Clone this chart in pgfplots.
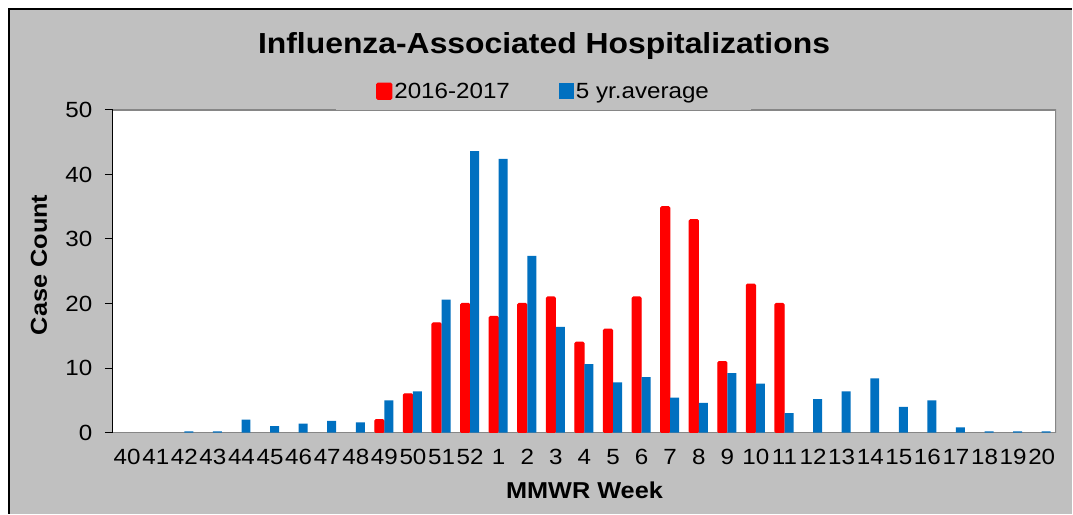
\documentclass[border=0pt]{standalone}
\usepackage{fontspec}
\setmainfont{Liberation Sans}[FakeStretch=1.1]
\usepackage{pgfplots}
\pgfplotsset{compat=1.18}
\definecolor{bg}{HTML}{C0C0C0}
\definecolor{myred}{HTML}{FF0000}
\definecolor{myblue}{HTML}{0070C0}
\definecolor{frame}{HTML}{868686}
\begin{document}
\begin{tikzpicture}[x=1pt,y=1pt]
\fill[white] (0,0) rectangle (1073,514);
\fill[bg] (9,0) rectangle (1073,505);
\draw[black, line width=2pt] (9,0) -- (9,505) -- (1073,505);
\node[font=\fontsize{29}{33}\selectfont\bfseries] at (544.5,468) {Influenza-Associated Hospitalizations};
\begin{axis}[
  at={(113pt,81pt)}, anchor=south west, scale only axis,
  width=944pt, height=323pt,
  xmin=-0.5, xmax=32.5, ymin=0, ymax=50,
  axis background/.style={fill=white},
  axis x line*=bottom, axis y line*=left,
  x axis line style={draw=frame, line width=1.5pt, -},
  y axis line style={draw=black, line width=1.2pt, -},
  ytick={0,10,20,30,40,50},
  xtick={0,...,32},
  xticklabels={40,41,42,43,44,45,46,47,48,49,50,51,52,1,2,3,4,5,6,7,8,9,10,11,12,13,14,15,16,17,18,19,20},
  tick align=outside, major tick length=8pt,
  y tick style={black, line width=1pt},
  x tick style={draw=none},
  ticklabel style={font=\fontsize{22}{26}\selectfont},
  /pgf/number format/assume math mode=true,
  xticklabel style={yshift=-5pt},
  yticklabel style={xshift=-9pt},
  xlabel={MMWR Week}, ylabel={Case Count},
  label style={font=\fontsize{23}{27}\selectfont\bfseries},
  xlabel style={at={(axis description cs:0.5,-0.1796)}, anchor=center},
  ylabel style={at={(axis description cs:-0.0784,0.52)}, anchor=center},
  legend style={at={(axis description cs:0.4566,1)}, anchor=south, fill=bg, draw=none,
    legend columns=2, font=\fontsize{22}{26}\selectfont, inner xsep=40pt, inner ysep=8pt,
    /tikz/every even column/.append style={column sep=47pt}},
  legend image code/.code={\fill[#1] (0pt,-8pt) rectangle (15pt,8pt);},
]
\addplot[ybar, bar width=9pt, bar shift=-5pt, fill=myred, draw=myred, line width=1.2pt, rounded corners=1.2pt] coordinates {
(9,2)(10,6)(11,17)(12,20)(13,18)(14,20)(15,21)(16,14)(17,16)(18,21)(19,35)(20,33)(21,11)(22,23)(23,20)};
\addplot[ybar, bar width=9pt, bar shift=4.5pt, fill=myblue, draw=none] coordinates {
(2,0.2)(3,0.2)(4,2.0)(5,1.0)(6,1.4)(7,1.8)(8,1.6)(9,5.0)(10,6.4)(11,20.6)(12,43.6)(13,42.4)(14,27.4)(15,16.4)(16,10.6)(17,7.8)(18,8.6)(19,5.4)(20,4.6)(21,9.2)(22,7.6)(23,3.0)(24,5.2)(25,6.4)(26,8.4)(27,4.0)(28,5.0)(29,0.8)(30,0.2)(31,0.2)(32,0.2)};
\draw[frame, line width=1.5pt] (rel axis cs:0,1) -- (rel axis cs:1,1) -- (rel axis cs:1,0);
\legend{2016-2017, 5 yr.average}
\end{axis}
\end{tikzpicture}
\end{document}
